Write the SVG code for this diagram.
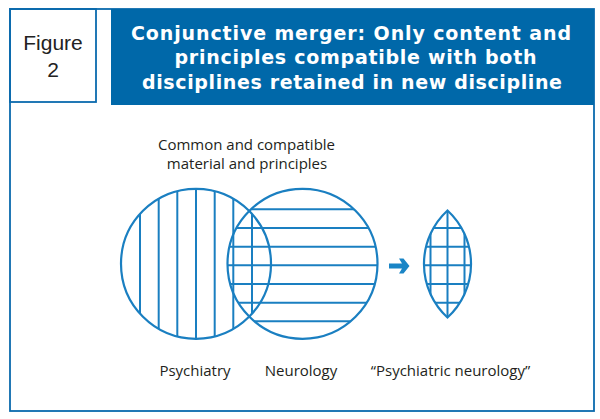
<svg xmlns="http://www.w3.org/2000/svg" width="600" height="419" viewBox="0 0 600 419">
<style>
.frame{fill:none;stroke:#0a6aad;stroke-width:1.8}
.hatch{stroke:#1a7fc1;stroke-width:2;fill:none}
.outline{stroke:#1a7fc1;stroke-width:2.2;fill:none}
.title{font-family:"DejaVu Sans",sans-serif;font-weight:bold;font-size:19px;fill:#fff;text-anchor:middle}
.fig{font-family:"Liberation Sans",Arial,sans-serif;font-size:21px;fill:#222;text-anchor:middle}
.lbl{font-family:"Open Sans","Noto Sans",sans-serif;font-size:15px;fill:#231f20;text-anchor:middle}
</style>
<defs>
<clipPath id="cL"><circle cx="196" cy="263.8" r="75"/></clipPath>
<clipPath id="cR"><circle cx="302.5" cy="263.8" r="75"/></clipPath>
<clipPath id="cLens"><path d="M447.5,210.5 A72.6,72.6 0 0 1 447.5,317.5 A72.6,72.6 0 0 1 447.5,210.5 Z"/></clipPath>
</defs>
<rect width="600" height="419" fill="#fff"/>
<g id="frame">
<rect class="frame" x="10" y="9" width="584" height="402"/>
</g>
<g id="figure-label">
<rect class="frame" x="10" y="9" width="86" height="93" fill="#fff"/>
<text class="fig" x="53" y="50">Figure</text>
<text class="fig" x="53" y="77">2</text>
</g>
<g id="title">
<rect x="111" y="9" width="483" height="96" fill="#0068a9"/>
<text class="title" x="351" y="39.5" textLength="440" lengthAdjust="spacing">Conjunctive merger: Only content and</text>
<text class="title" x="355.5" y="64" textLength="362" lengthAdjust="spacing">principles compatible with both</text>
<text class="title" x="352" y="88.5" textLength="420" lengthAdjust="spacing">disciplines retained in new discipline</text>
</g>
<g id="caption">
<text class="lbl" x="246.5" y="150">Common and compatible</text>
<text class="lbl" x="247" y="168.5">material and principles</text>
</g>
<g id="psychiatry">
<g clip-path="url(#cL)" class="hatch">
<line x1="140" y1="180" x2="140" y2="350"/>
<line x1="158.7" y1="180" x2="158.7" y2="350"/>
<line x1="177.3" y1="180" x2="177.3" y2="350"/>
<line x1="196" y1="180" x2="196" y2="350"/>
<line x1="214.7" y1="180" x2="214.7" y2="350"/>
<line x1="233.3" y1="180" x2="233.3" y2="350"/>
<line x1="252" y1="180" x2="252" y2="350"/>
</g>
<circle class="outline" cx="196" cy="263.8" r="75"/>
<text class="lbl" x="195" y="376">Psychiatry</text>
</g>
<g id="neurology">
<g clip-path="url(#cR)" class="hatch">
<line x1="220" y1="209.3" x2="390" y2="209.3"/>
<line x1="220" y1="228" x2="390" y2="228"/>
<line x1="220" y1="246.7" x2="390" y2="246.7"/>
<line x1="220" y1="265.3" x2="390" y2="265.3"/>
<line x1="220" y1="284" x2="390" y2="284"/>
<line x1="220" y1="302.7" x2="390" y2="302.7"/>
<line x1="220" y1="321.3" x2="390" y2="321.3"/>
</g>
<circle class="outline" cx="302.5" cy="263.8" r="75"/>
<text class="lbl" x="301" y="376">Neurology</text>
</g>
<g id="connectors">
<polygon fill="#1a85c6" points="389,263.5 402,263.5 399,258.5 403.5,258.5 409.5,266 403.5,273.5 399,273.5 402,268.5 389,268.5"/>
</g>
<g id="psychiatric-neurology">
<g clip-path="url(#cLens)" class="hatch">
<line x1="430.5" y1="200" x2="430.5" y2="330"/>
<line x1="447.5" y1="200" x2="447.5" y2="330"/>
<line x1="464.5" y1="200" x2="464.5" y2="330"/>
<line x1="415" y1="228" x2="480" y2="228"/>
<line x1="415" y1="246.7" x2="480" y2="246.7"/>
<line x1="415" y1="265.3" x2="480" y2="265.3"/>
<line x1="415" y1="284" x2="480" y2="284"/>
<line x1="415" y1="302.7" x2="480" y2="302.7"/>
</g>
<path class="outline" d="M447.5,210.5 A72.6,72.6 0 0 1 447.5,317.5 A72.6,72.6 0 0 1 447.5,210.5 Z"/>
<text class="lbl" x="450.5" y="376">“Psychiatric neurology”</text>
</g>
</svg>
